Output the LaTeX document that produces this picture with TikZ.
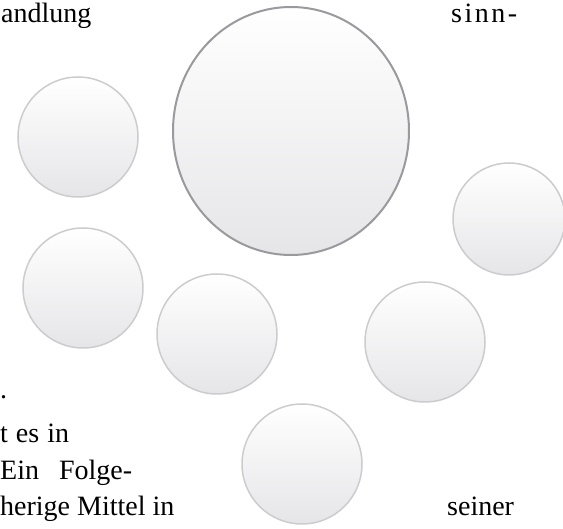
\documentclass[tikz,border=0pt]{standalone}
\usepackage{fontspec}
\setmainfont{Liberation Serif}
\usetikzlibrary{shapes.geometric}
\definecolor{RimClr}{rgb}{0.6,0.6,0.62}
\definecolor{RingClr}{rgb}{0.8,0.8,0.81}
\definecolor{BaseClr}{rgb}{0.9,0.9,0.91}

\begin{document}
\begin{tikzpicture}[x=1pt,y=-1pt,
  bubble/.style={ellipse,draw=RingClr,line width=1.5pt,top color=white,
    bottom color=BaseClr,inner sep=0pt,minimum width=120pt,minimum height=120pt},
  word/.style={anchor=base west,inner sep=0pt,font=\fontsize{28}{32}\selectfont}]
\useasboundingbox (0,0) rectangle (563,529);

% text round the picture
\node[word] (w1) at (1,23) {andlung};
\node[word] (w2) at (451,23) {\addfontfeature{LetterSpace=9}sinn-};
\node[word] (w3) at (0,399) {.};
\node[word] (w4) at (0,443) {t\hspace{8pt}es\hspace{8pt}in};
\node[word] (w5) at (0,480) {Ein\hspace{20pt}Folge-};
\node[word] (w6) at (0,516) {herige Mittel in};
\node[word] (w7) at (447,516) {seiner};

% the big one
\node[bubble,draw=RimClr,line width=2pt,minimum width=236pt,minimum height=248pt] (hub) at (291,131) {};

% the small ones
\node[bubble] (b1) at (78,137) {};
\node[bubble,minimum width=112pt,minimum height=112pt] (b2) at (509,219) {};
\node[bubble] (b3) at (83,288) {};
\node[bubble] (b4) at (217,334) {};
\node[bubble] (b5) at (425,342) {};
\node[bubble] (b6) at (302,464) {};

\end{tikzpicture}
\end{document}
